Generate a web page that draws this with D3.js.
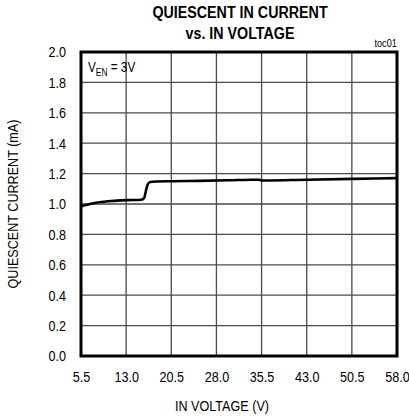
<!DOCTYPE html>
<html>
<head>
<meta charset="utf-8">
<script src="https://cdn.jsdelivr.net/npm/d3@7"></script>
<style>
  body { margin: 0; background: #fff; }
  svg text { font-family: "Liberation Sans", Arial, sans-serif; }
</style>
</head>
<body>
<div id="chart"></div>
<script>
// curve: input voltage (V) vs quiescent current (mA)
const voltage = [5.5, 6.5, 8, 10, 12, 14, 15.5, 16, 16.3, 16.6, 17, 18, 20.5, 25, 30, 34, 35, 35.5, 36, 43, 50.5, 58];
const current = [0.985, 0.995, 1.008, 1.018, 1.024, 1.026, 1.028, 1.04, 1.09, 1.13, 1.145, 1.148, 1.150, 1.152, 1.156, 1.160, 1.160, 1.155, 1.155, 1.160, 1.165, 1.170];
const xTicks = [5.5, 13.0, 20.5, 28.0, 35.5, 43.0, 50.5, 58.0];
const yTicks = [0, 0.2, 0.4, 0.6, 0.8, 1.0, 1.2, 1.4, 1.6, 1.8, 2.0];

const width = 409, height = 417;
const margin = { top: 52, right: 12, bottom: 61, left: 81 };
const innerWidth = width - margin.left - margin.right;
const innerHeight = height - margin.top - margin.bottom;
const narrow = 0.84; // the reference font is a condensed sans

const svg = d3.select('#chart').append('svg')
    .attr('width', width)
    .attr('height', height);

const x = d3.scaleLinear().domain([5.5, 58]).range([0, innerWidth]);
const y = d3.scaleLinear().domain([0, 2]).range([innerHeight, 0]);

// squeeze a text horizontally around its own anchor point
function label(parent, tx, ty, str, size, anchor, rotate) {
    return parent.append('text')
        .attr('transform', `translate(${tx},${ty})${rotate ? ' rotate(' + rotate + ')' : ''} scale(${narrow},1)`)
        .attr('text-anchor', anchor || 'start')
        .style('font-size', size + 'px')
        .text(str);
}

const chart = svg.append('g')
    .attr('transform', `translate(${margin.left},${margin.top})`);

// grid
chart.append('g')
    .selectAll('line')
    .data(yTicks)
    .join('line')
    .attr('x1', 0).attr('x2', innerWidth)
    .attr('y1', d => y(d)).attr('y2', d => y(d))
    .attr('stroke', '#4a4a4a').attr('stroke-width', 1.3);

chart.append('g')
    .selectAll('line')
    .data(xTicks)
    .join('line')
    .attr('y1', 0).attr('y2', innerHeight)
    .attr('x1', d => x(d)).attr('x2', d => x(d))
    .attr('stroke', '#4a4a4a').attr('stroke-width', 1.3);

// axes (labels only)
const xAxis = chart.append('g')
    .attr('transform', `translate(0,${innerHeight})`)
    .call(d3.axisBottom(x).tickValues(xTicks).tickFormat(d3.format('.1f')).tickSize(0).tickPadding(15));
const yAxis = chart.append('g')
    .call(d3.axisLeft(y).tickValues(yTicks).tickFormat(d3.format('.1f')).tickSize(0).tickPadding(18));
[xAxis, yAxis].forEach(a => {
    a.select('.domain').remove();
    a.selectAll('text')
        .attr('fill', '#000')
        .attr('transform', `scale(${narrow},1)`)
        .style('font-size', '15px');
});

// frame
chart.append('rect')
    .attr('width', innerWidth).attr('height', innerHeight)
    .attr('fill', 'none').attr('stroke', '#000').attr('stroke-width', 3);

// data line
const line = d3.line()
    .x((d, i) => x(voltage[i]))
    .y(d => y(d))
    .curve(d3.curveMonotoneX);

chart.append('path')
    .datum(current)
    .attr('d', line)
    .attr('fill', 'none')
    .attr('stroke', '#000')
    .attr('stroke-width', 2.6);

// annotation
const ann = label(chart, 7, 20, null, 14);
ann.append('tspan').text('V');
ann.append('tspan').attr('dy', 4).style('font-size', '10px').text('EN');
ann.append('tspan').attr('dy', -4).text(' = 3V');

// titles
label(svg, 240, 18, 'QUIESCENT IN CURRENT', 17, 'middle').style('font-weight', 'bold');
label(svg, 240, 39, 'vs. IN VOLTAGE', 17, 'middle').style('font-weight', 'bold');
label(svg, margin.left + innerWidth, 47, 'toc01', 11, 'end');
label(svg, 222, 411, 'IN VOLTAGE (V)', 15, 'middle');
label(svg, 18, margin.top + innerHeight / 2, 'QUIESCENT CURRENT (mA)', 15, 'middle', -90);
</script>
</body>
</html>
